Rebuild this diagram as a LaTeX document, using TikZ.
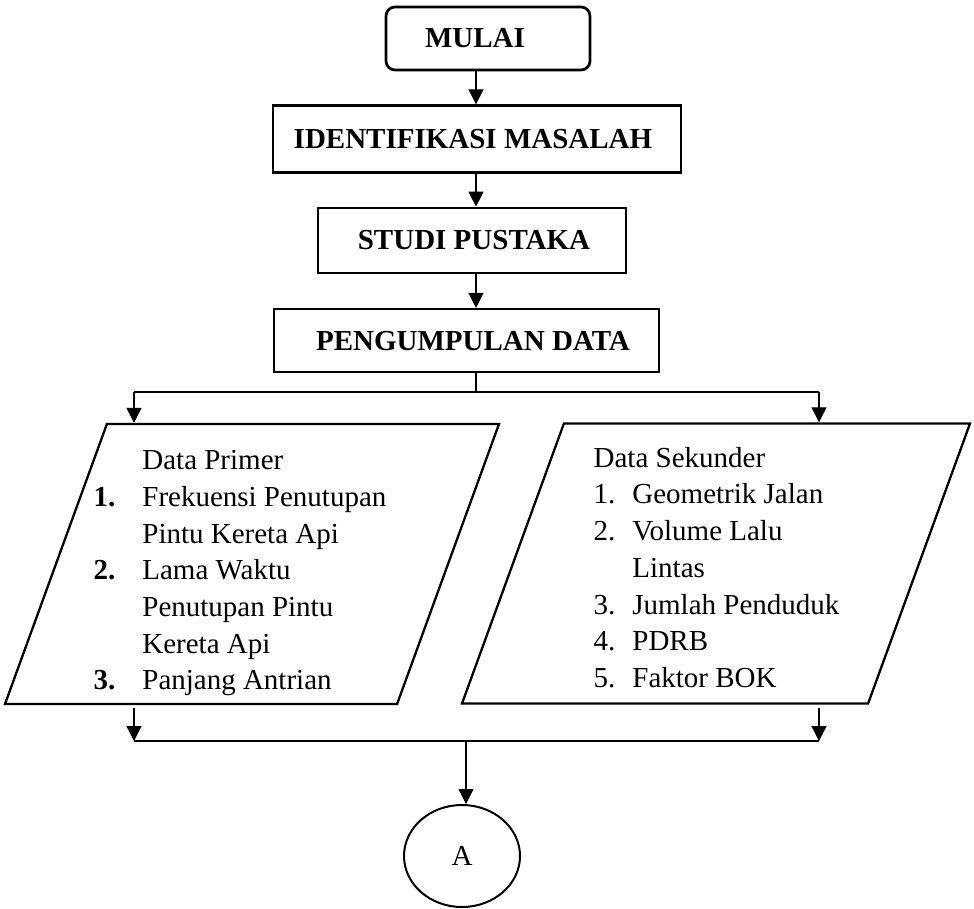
\documentclass[tikz,border=0pt]{standalone}
\usepackage{fontspec}
\setmainfont{Liberation Serif}
\usetikzlibrary{arrows.meta}
\usetikzlibrary{positioning}
\usetikzlibrary{shapes.geometric}
\tikzset{basic/.style={draw,rectangle,line width=2.3pt,font=\fontsize{29pt}{34pt}\selectfont\bfseries}}
\tikzset{mulaibox/.style={basic,rounded corners=9pt,line width=2.7pt}}
\tikzset{proses/.style={basic}}
\tikzset{datainput/.style={draw,line width=2.3pt,trapezium,trapezium left angle=70,trapezium right angle=110,trapezium stretches body,inner sep=0pt}}
\tikzset{daftar/.style={inner sep=0pt,font=\fontsize{29pt}{36.7pt}\selectfont}}
\newcommand{\tinggi}{\rule{0pt}{280pt}}

\begin{document}
\begin{tikzpicture}[%
		> = {Triangle[width=15pt,length=15pt]}, % arrow head style
		x = 1pt, y = -1pt, % pixel grid, y downwards
		line width = 1.3pt, % line style
		node distance = 33pt % distance between boxes
		]
		\useasboundingbox (0,0) rectangle (974,909);
		
		\coordinate (poros) at (476,0);
		\coordinate (cabang) at (476,392);
		\coordinate (kiri) at (134,392);
		\coordinate (kanan) at (819,392);
		\coordinate (gabung) at (466,741);
		
		\node[mulaibox, minimum width=204pt, minimum height=63pt] (mulai) at (488,38.5) {MULAI\hspace*{26pt}};
		\node[proses, minimum width=408pt, minimum height=67pt] (ident) [below=of mulai, xshift=-11pt] {IDENTIFIKASI MASALAH\hspace*{8pt}};
		\node[proses, minimum width=308pt, minimum height=65pt] (studi) [below=of ident, xshift=-5pt] {\hspace*{4pt}STUDI PUSTAKA};
		\node[proses, minimum width=385pt, minimum height=63pt] (kumpul) [below=34pt of studi, xshift=-5.5pt] {\hspace*{13pt}PENGUMPULAN DATA};
		
		\node[datainput, minimum width=494pt] (primer) at (252,564) {\tinggi};
		\node[datainput, minimum width=508pt] (sekunder) at (716,563.5) {\tinggi};
		
		\node[daftar, anchor=west] (tprimer) at (93,572.5) {%
			\begin{tabular}{@{}r@{\hspace{27pt}}l@{}}
				& Data Primer\\
				\textbf{1.} & Frekuensi Penutupan\\
				& Pintu Kereta Api\\
				\textbf{2.} & Lama Waktu\\
				& Penutupan Pintu\\
				& Kereta Api\\
				\textbf{3.} & Panjang Antrian
			\end{tabular}};
		\node[daftar, anchor=west] (tsekunder) at (593,570) {%
			\begin{tabular}{@{}l@{\hspace{17pt}}l@{}}
				\multicolumn{2}{@{}l@{}}{Data Sekunder}\\
				1. & Geometrik Jalan\\
				2. & Volume Lalu\\
				& Lintas\\
				3. & Jumlah Penduduk\\
				4. & PDRB\\
				5. & Faktor BOK
			\end{tabular}};
		
		\node[draw, ellipse, line width=2pt, minimum width=116pt, minimum height=102pt, font=\fontsize{29pt}{34pt}\selectfont] (hub) at (462,856) {A};
		
		% Alur utama
		\draw[->] (mulai.south -| poros) -- (ident.north -| poros);
		\draw[->] (ident.south -| poros) -- (studi.north -| poros);
		\draw[->] (studi.south -| poros) -- (kumpul.north -| poros);
		
		% Percabangan
		\draw (kumpul.south -| poros) -- (cabang);
		\draw (kiri) -- (kanan);
		\draw[->] (kiri) -- (kiri |- primer.north);
		\draw[->] (kanan) -- (kanan |- sekunder.north);
		
		% Penggabungan
		\draw[->] ([yshift=-3pt]kiri |- primer.south) -- (kiri |- gabung);
		\draw[->] ([yshift=-3pt]kanan |- sekunder.south) -- (kanan |- gabung);
		\draw (kiri |- gabung) -- (kanan |- gabung);
		\draw[->] (gabung) -- (gabung |- hub.north);
\end{tikzpicture}
\end{document}
